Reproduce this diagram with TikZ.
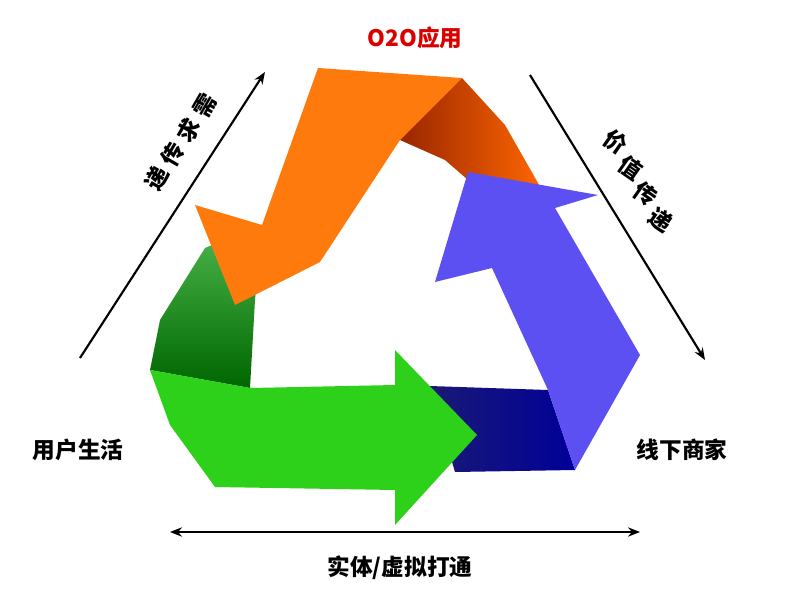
\documentclass[tikz,border=0pt]{standalone}
\usepackage{fontspec}
\setmainfont{Noto Sans CJK SC}
\usetikzlibrary{arrows.meta}
\tikzset{lbl/.style={font=\bfseries\fontsize{17}{20}\selectfont,inner sep=0pt},
 axis/.style={line width=1.6pt,-{Stealth[length=9pt,width=7pt]}}}
\begin{document}
\begin{tikzpicture}[x=0.75pt,y=-0.75pt]
\useasboundingbox (0,0) rectangle (800,600);
% green fold
\shade[top color=green!60!black!70,bottom color=green!40!black] (205,248)--(262,225)--(255,300)--(250,388)--(150,370)--(160,320)--cycle;
% dark blue fold
\shade[left color=blue!40!black!90,right color=blue!60!black] (430,386)--(548,390)--(575,470)--(455,472)--cycle;
% dark red fold
\shade[left color=orange!50!red!60!black,right color=orange!80!red] (415,78)--(462,78)--(505,125)--(542,190)--(505,212)--(445,160)--(400,140)--cycle;
% orange arrow
\fill[orange!90!red!95!white] (318,68)--(462,78)--(400,140)--(320,262)--(235,305)--(195,205)--(262,225)--cycle;
% blue arrow
\fill[blue!65!white!90!violet] (598,195)--(555,208)--(640,355)--(575,470)--(548,390)--(492,268)--(435,282)--(468,172)--cycle;
% green arrow
\fill[green!85!lime!80!black!90] (150,370)--(250,388)--(395,385)--(395,350)--(477,435)--(395,525)--(395,490)--(215,487)--(170,425)--cycle;
% labels
\node[lbl,text=red!85!black] (o2o) at (415,38) {O2O应用};
\node[lbl] (user) at (78,450) {用户生活};
\node[lbl] (shop) at (682,450) {线下商家};
\node[lbl] (bot) at (400,568) {实体/虚拟打通};
\node[lbl,rotate=60] (x1) at (205,106) {需};
\node[lbl,rotate=60] (x2) at (189,130) {求};
\node[lbl,rotate=60] (x3) at (173,154) {传};
\node[lbl,rotate=60] (x4) at (157,178) {递};
\node[lbl,rotate=-35] (j1) at (616,142) {价};
\node[lbl,rotate=-35] (j2) at (631,168) {值};
\node[lbl,rotate=-35] (j3) at (646,194) {传};
\node[lbl,rotate=-35] (j4) at (661,220) {递};
% axes
\coordinate (a1) at (80,358); \coordinate (a2) at (265,72);
\coordinate (b1) at (530,75); \coordinate (b2) at (705,360);
\coordinate (c1) at (170,532); \coordinate (c2) at (640,532);
\draw[axis] (a1)--(a2);
\draw[axis] (b1)--(b2);
\draw[axis,{Stealth[length=9pt,width=7pt]}-{Stealth[length=9pt,width=7pt]}] (c1)--(c2);
\end{tikzpicture}
\end{document}
